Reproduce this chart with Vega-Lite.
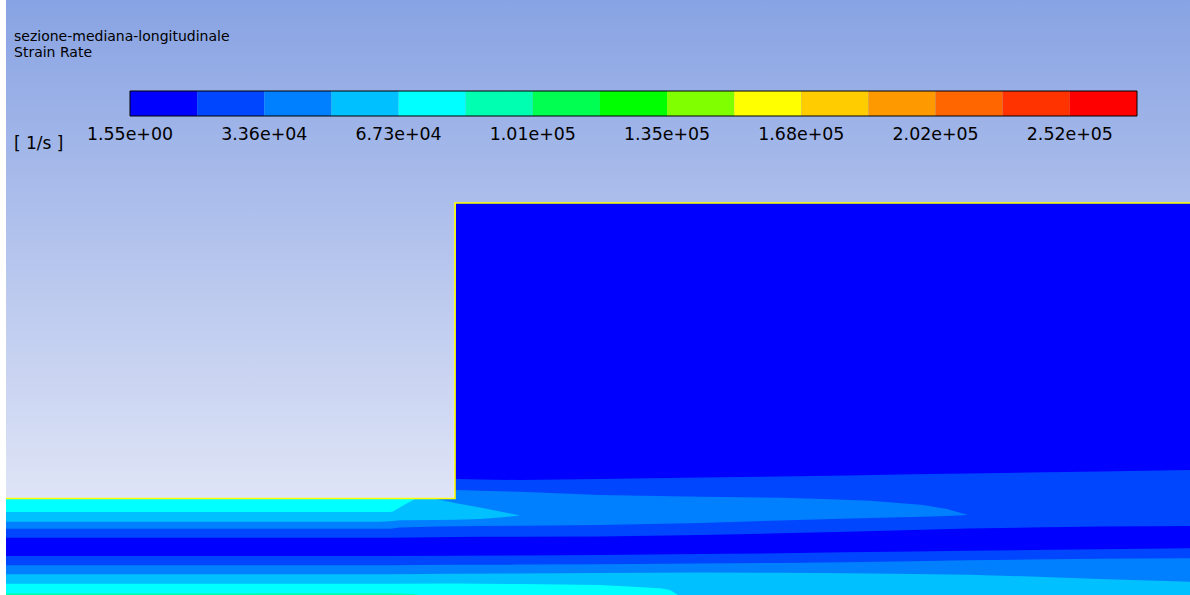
{
  "$schema": "https://vega.github.io/schema/vega-lite/v6.json",
  "width": 1190,
  "height": 595,
  "autosize": {"type": "fit", "contains": "padding"},
  "padding": {"left": 6, "top": 0, "right": 0, "bottom": 0},
  "background": "#ffffff",
  "config": {
    "view": {"stroke": null, "fill": {"gradient": "linear", "x1": 0, "y1": 0, "x2": 0, "y2": 1, "stops": [{"offset": 0, "color": "#88a3e3"}, {"offset": 1, "color": "#f0f1fa"}]}},
    "axis": {"disable": true},
    "legend": {"disable": true}
  },
  "datasets": {
    "field": [
      {"region": "L0", "level": 0, "x": 6, "top": 499, "bot": 595},
      {"region": "L0", "level": 0, "x": 455, "top": 499, "bot": 595},
      {"region": "L0", "level": 0, "x": 456, "top": 203, "bot": 595},
      {"region": "L0", "level": 0, "x": 1190, "top": 203, "bot": 595},

      {"region": "U1", "level": 1, "x": 6, "top": 499, "bot": 537.7},
      {"region": "U1", "level": 1, "x": 390, "top": 499, "bot": 537.7},
      {"region": "U1", "level": 1, "x": 455, "top": 499, "bot": 537},
      {"region": "U1", "level": 1, "x": 456, "top": 479, "bot": 537},
      {"region": "U1", "level": 1, "x": 480, "top": 479.5, "bot": 536.8},
      {"region": "U1", "level": 1, "x": 520, "top": 480, "bot": 536.7},
      {"region": "U1", "level": 1, "x": 600, "top": 479, "bot": 536.5},
      {"region": "U1", "level": 1, "x": 700, "top": 477.5, "bot": 535},
      {"region": "U1", "level": 1, "x": 780, "top": 476.5, "bot": 533.3},
      {"region": "U1", "level": 1, "x": 847, "top": 475.5, "bot": 531.7},
      {"region": "U1", "level": 1, "x": 913, "top": 474.3, "bot": 530},
      {"region": "U1", "level": 1, "x": 968, "top": 473.5, "bot": 528.6},
      {"region": "U1", "level": 1, "x": 1030, "top": 472.5, "bot": 527.5},
      {"region": "U1", "level": 1, "x": 1100, "top": 471.5, "bot": 526.5},
      {"region": "U1", "level": 1, "x": 1190, "top": 470, "bot": 526},

      {"region": "U2", "level": 2, "x": 6, "top": 499, "bot": 528.7},
      {"region": "U2", "level": 2, "x": 390, "top": 499, "bot": 528.7},
      {"region": "U2", "level": 2, "x": 400, "top": 499, "bot": 527.5},
      {"region": "U2", "level": 2, "x": 438, "top": 499, "bot": 526.5},
      {"region": "U2", "level": 2, "x": 455, "top": 499, "bot": 526.3},
      {"region": "U2", "level": 2, "x": 456, "top": 490, "bot": 526.3},
      {"region": "U2", "level": 2, "x": 480, "top": 490.7, "bot": 526},
      {"region": "U2", "level": 2, "x": 520, "top": 491.8, "bot": 525.7},
      {"region": "U2", "level": 2, "x": 600, "top": 495, "bot": 525},
      {"region": "U2", "level": 2, "x": 700, "top": 496.7, "bot": 523},
      {"region": "U2", "level": 2, "x": 780, "top": 497.7, "bot": 520.5},
      {"region": "U2", "level": 2, "x": 823, "top": 499, "bot": 519.3},
      {"region": "U2", "level": 2, "x": 870, "top": 500.7, "bot": 518},
      {"region": "U2", "level": 2, "x": 923, "top": 505, "bot": 516.8},
      {"region": "U2", "level": 2, "x": 947, "top": 509, "bot": 516},
      {"region": "U2", "level": 2, "x": 968, "top": 515, "bot": 515},

      {"region": "U3", "level": 3, "x": 6, "top": 499, "bot": 521.7},
      {"region": "U3", "level": 3, "x": 380, "top": 499, "bot": 521.7},
      {"region": "U3", "level": 3, "x": 390, "top": 499, "bot": 521.3},
      {"region": "U3", "level": 3, "x": 400, "top": 499, "bot": 520.3},
      {"region": "U3", "level": 3, "x": 436, "top": 499, "bot": 520},
      {"region": "U3", "level": 3, "x": 455, "top": 503, "bot": 519.7},
      {"region": "U3", "level": 3, "x": 480, "top": 507.5, "bot": 519},
      {"region": "U3", "level": 3, "x": 500, "top": 511.5, "bot": 517.5},
      {"region": "U3", "level": 3, "x": 520, "top": 515.5, "bot": 515.5},

      {"region": "U4", "level": 4, "x": 6, "top": 499, "bot": 512},
      {"region": "U4", "level": 4, "x": 390, "top": 499, "bot": 512},
      {"region": "U4", "level": 4, "x": 393, "top": 499, "bot": 511.5},
      {"region": "U4", "level": 4, "x": 404, "top": 499, "bot": 505},
      {"region": "U4", "level": 4, "x": 415, "top": 499, "bot": 499},

      {"region": "D1", "level": 1, "x": 6, "top": 556, "bot": 595},
      {"region": "D1", "level": 1, "x": 390, "top": 556, "bot": 595},
      {"region": "D1", "level": 1, "x": 455, "top": 555.8, "bot": 595},
      {"region": "D1", "level": 1, "x": 520, "top": 555.5, "bot": 595},
      {"region": "D1", "level": 1, "x": 600, "top": 555, "bot": 595},
      {"region": "D1", "level": 1, "x": 700, "top": 554, "bot": 595},
      {"region": "D1", "level": 1, "x": 780, "top": 553.3, "bot": 595},
      {"region": "D1", "level": 1, "x": 847, "top": 552.2, "bot": 595},
      {"region": "D1", "level": 1, "x": 913, "top": 551.5, "bot": 595},
      {"region": "D1", "level": 1, "x": 968, "top": 550.8, "bot": 595},
      {"region": "D1", "level": 1, "x": 1030, "top": 550, "bot": 595},
      {"region": "D1", "level": 1, "x": 1100, "top": 549.2, "bot": 595},
      {"region": "D1", "level": 1, "x": 1190, "top": 548.3, "bot": 595},

      {"region": "D2", "level": 2, "x": 6, "top": 565.3, "bot": 595},
      {"region": "D2", "level": 2, "x": 390, "top": 565.3, "bot": 595},
      {"region": "D2", "level": 2, "x": 455, "top": 564.8, "bot": 595},
      {"region": "D2", "level": 2, "x": 520, "top": 564.6, "bot": 595},
      {"region": "D2", "level": 2, "x": 600, "top": 564.3, "bot": 595},
      {"region": "D2", "level": 2, "x": 700, "top": 563.5, "bot": 595},
      {"region": "D2", "level": 2, "x": 780, "top": 563, "bot": 595},
      {"region": "D2", "level": 2, "x": 847, "top": 562.2, "bot": 595},
      {"region": "D2", "level": 2, "x": 913, "top": 561.2, "bot": 595},
      {"region": "D2", "level": 2, "x": 968, "top": 560.3, "bot": 595},
      {"region": "D2", "level": 2, "x": 1030, "top": 559.5, "bot": 595},
      {"region": "D2", "level": 2, "x": 1100, "top": 558.8, "bot": 595},
      {"region": "D2", "level": 2, "x": 1190, "top": 558.3, "bot": 595},

      {"region": "D3", "level": 3, "x": 6, "top": 574.3, "bot": 595},
      {"region": "D3", "level": 3, "x": 390, "top": 574.2, "bot": 595},
      {"region": "D3", "level": 3, "x": 455, "top": 573.8, "bot": 595},
      {"region": "D3", "level": 3, "x": 520, "top": 573.5, "bot": 595},
      {"region": "D3", "level": 3, "x": 600, "top": 573, "bot": 595},
      {"region": "D3", "level": 3, "x": 700, "top": 572.5, "bot": 595},
      {"region": "D3", "level": 3, "x": 780, "top": 572.8, "bot": 595},
      {"region": "D3", "level": 3, "x": 847, "top": 573.3, "bot": 595},
      {"region": "D3", "level": 3, "x": 913, "top": 574, "bot": 595},
      {"region": "D3", "level": 3, "x": 968, "top": 574.8, "bot": 595},
      {"region": "D3", "level": 3, "x": 1030, "top": 576.5, "bot": 595},
      {"region": "D3", "level": 3, "x": 1100, "top": 579, "bot": 595},
      {"region": "D3", "level": 3, "x": 1190, "top": 581.7, "bot": 595},

      {"region": "D4", "level": 4, "x": 6, "top": 583.7, "bot": 595},
      {"region": "D4", "level": 4, "x": 390, "top": 583.7, "bot": 595},
      {"region": "D4", "level": 4, "x": 455, "top": 583.6, "bot": 595},
      {"region": "D4", "level": 4, "x": 520, "top": 584, "bot": 595},
      {"region": "D4", "level": 4, "x": 600, "top": 585, "bot": 595},
      {"region": "D4", "level": 4, "x": 633, "top": 586.7, "bot": 595},
      {"region": "D4", "level": 4, "x": 660, "top": 588.3, "bot": 595},
      {"region": "D4", "level": 4, "x": 670, "top": 590, "bot": 595},
      {"region": "D4", "level": 4, "x": 678, "top": 595, "bot": 595},

      {"region": "D5", "level": 5, "x": 6, "top": 593.3, "bot": 595},
      {"region": "D5", "level": 5, "x": 390, "top": 593.3, "bot": 595},
      {"region": "D5", "level": 5, "x": 400, "top": 593.5, "bot": 595},
      {"region": "D5", "level": 5, "x": 413, "top": 594, "bot": 595},
      {"region": "D5", "level": 5, "x": 420, "top": 595, "bot": 595}
    ],
    "wall": [
      {"seq": 1, "x": 6, "y": 498.5},
      {"seq": 2, "x": 455, "y": 498.5},
      {"seq": 3, "x": 455, "y": 203},
      {"seq": 4, "x": 1190, "y": 203}
    ],
    "bands": [
      {"level": 0, "lo": 0, "hi": 16800},
      {"level": 1, "lo": 16800, "hi": 33600},
      {"level": 2, "lo": 33600, "hi": 50400},
      {"level": 3, "lo": 50400, "hi": 67200},
      {"level": 4, "lo": 67200, "hi": 84000},
      {"level": 5, "lo": 84000, "hi": 100800},
      {"level": 6, "lo": 100800, "hi": 117600},
      {"level": 7, "lo": 117600, "hi": 134400},
      {"level": 8, "lo": 134400, "hi": 151200},
      {"level": 9, "lo": 151200, "hi": 168000},
      {"level": 10, "lo": 168000, "hi": 184800},
      {"level": 11, "lo": 184800, "hi": 201600},
      {"level": 12, "lo": 201600, "hi": 218400},
      {"level": 13, "lo": 218400, "hi": 235200},
      {"level": 14, "lo": 235200, "hi": 252000}
    ],
    "ticks": [
      {"label": "1.55e+00", "at": 0},
      {"label": "3.36e+04", "at": 33600},
      {"label": "6.73e+04", "at": 67200},
      {"label": "1.01e+05", "at": 100800},
      {"label": "1.35e+05", "at": 134400},
      {"label": "1.68e+05", "at": 168000},
      {"label": "2.02e+05", "at": 201600},
      {"label": "2.52e+05", "at": 235200}
    ]
  },
  "layer": [
    {
      "layer": [
        {"data": {"name": "field"}, "transform": [{"filter": "datum.region === 'L0'"}],
         "mark": {"type": "area", "orient": "vertical", "interpolate": "linear", "clip": true},
         "encoding": {"x": {"field": "x", "type": "quantitative", "scale": {"domain": [6, 1190], "nice": false, "zero": false}},
                      "y": {"field": "top", "type": "quantitative", "stack": null, "scale": {"domain": [0, 595], "nice": false, "zero": false, "reverse": true}},
                      "y2": {"field": "bot"},
                      "color": {"field": "level", "type": "ordinal", "scale": {"domain": [0,1,2,3,4,5,6,7,8,9,10,11,12,13,14], "range": ["#0000ff","#0046ff","#0080ff","#00c0ff","#00ffff","#00ffb0","#00ff50","#00ff00","#80ff00","#ffff00","#ffcc00","#ff9900","#ff6600","#ff3300","#ff0000"]}}}},
        {"data": {"name": "field"}, "transform": [{"filter": "datum.region === 'U1'"}],
         "mark": {"type": "area", "orient": "vertical", "interpolate": "linear", "clip": true},
         "encoding": {"x": {"field": "x", "type": "quantitative", "scale": {"domain": [6, 1190], "nice": false, "zero": false}},
                      "y": {"field": "top", "type": "quantitative", "stack": null, "scale": {"domain": [0, 595], "nice": false, "zero": false, "reverse": true}},
                      "y2": {"field": "bot"},
                      "color": {"field": "level", "type": "ordinal"}}},
        {"data": {"name": "field"}, "transform": [{"filter": "datum.region === 'U2'"}],
         "mark": {"type": "area", "orient": "vertical", "interpolate": "linear", "clip": true},
         "encoding": {"x": {"field": "x", "type": "quantitative", "scale": {"domain": [6, 1190], "nice": false, "zero": false}},
                      "y": {"field": "top", "type": "quantitative", "stack": null, "scale": {"domain": [0, 595], "nice": false, "zero": false, "reverse": true}},
                      "y2": {"field": "bot"},
                      "color": {"field": "level", "type": "ordinal"}}},
        {"data": {"name": "field"}, "transform": [{"filter": "datum.region === 'U3'"}],
         "mark": {"type": "area", "orient": "vertical", "interpolate": "linear", "clip": true},
         "encoding": {"x": {"field": "x", "type": "quantitative", "scale": {"domain": [6, 1190], "nice": false, "zero": false}},
                      "y": {"field": "top", "type": "quantitative", "stack": null, "scale": {"domain": [0, 595], "nice": false, "zero": false, "reverse": true}},
                      "y2": {"field": "bot"},
                      "color": {"field": "level", "type": "ordinal"}}},
        {"data": {"name": "field"}, "transform": [{"filter": "datum.region === 'U4'"}],
         "mark": {"type": "area", "orient": "vertical", "interpolate": "linear", "clip": true},
         "encoding": {"x": {"field": "x", "type": "quantitative", "scale": {"domain": [6, 1190], "nice": false, "zero": false}},
                      "y": {"field": "top", "type": "quantitative", "stack": null, "scale": {"domain": [0, 595], "nice": false, "zero": false, "reverse": true}},
                      "y2": {"field": "bot"},
                      "color": {"field": "level", "type": "ordinal"}}},
        {"data": {"name": "field"}, "transform": [{"filter": "datum.region === 'D1'"}],
         "mark": {"type": "area", "orient": "vertical", "interpolate": "linear", "clip": true},
         "encoding": {"x": {"field": "x", "type": "quantitative", "scale": {"domain": [6, 1190], "nice": false, "zero": false}},
                      "y": {"field": "top", "type": "quantitative", "stack": null, "scale": {"domain": [0, 595], "nice": false, "zero": false, "reverse": true}},
                      "y2": {"field": "bot"},
                      "color": {"field": "level", "type": "ordinal"}}},
        {"data": {"name": "field"}, "transform": [{"filter": "datum.region === 'D2'"}],
         "mark": {"type": "area", "orient": "vertical", "interpolate": "linear", "clip": true},
         "encoding": {"x": {"field": "x", "type": "quantitative", "scale": {"domain": [6, 1190], "nice": false, "zero": false}},
                      "y": {"field": "top", "type": "quantitative", "stack": null, "scale": {"domain": [0, 595], "nice": false, "zero": false, "reverse": true}},
                      "y2": {"field": "bot"},
                      "color": {"field": "level", "type": "ordinal"}}},
        {"data": {"name": "field"}, "transform": [{"filter": "datum.region === 'D3'"}],
         "mark": {"type": "area", "orient": "vertical", "interpolate": "linear", "clip": true},
         "encoding": {"x": {"field": "x", "type": "quantitative", "scale": {"domain": [6, 1190], "nice": false, "zero": false}},
                      "y": {"field": "top", "type": "quantitative", "stack": null, "scale": {"domain": [0, 595], "nice": false, "zero": false, "reverse": true}},
                      "y2": {"field": "bot"},
                      "color": {"field": "level", "type": "ordinal"}}},
        {"data": {"name": "field"}, "transform": [{"filter": "datum.region === 'D4'"}],
         "mark": {"type": "area", "orient": "vertical", "interpolate": "linear", "clip": true},
         "encoding": {"x": {"field": "x", "type": "quantitative", "scale": {"domain": [6, 1190], "nice": false, "zero": false}},
                      "y": {"field": "top", "type": "quantitative", "stack": null, "scale": {"domain": [0, 595], "nice": false, "zero": false, "reverse": true}},
                      "y2": {"field": "bot"},
                      "color": {"field": "level", "type": "ordinal"}}},
        {"data": {"name": "field"}, "transform": [{"filter": "datum.region === 'D5'"}],
         "mark": {"type": "area", "orient": "vertical", "interpolate": "linear", "clip": true},
         "encoding": {"x": {"field": "x", "type": "quantitative", "scale": {"domain": [6, 1190], "nice": false, "zero": false}},
                      "y": {"field": "top", "type": "quantitative", "stack": null, "scale": {"domain": [0, 595], "nice": false, "zero": false, "reverse": true}},
                      "y2": {"field": "bot"},
                      "color": {"field": "level", "type": "ordinal"}}},
        {"data": {"name": "wall"},
         "mark": {"type": "line", "color": "#ffff00", "strokeWidth": 1.6, "clip": true},
         "encoding": {"x": {"field": "x", "type": "quantitative", "scale": {"domain": [6, 1190], "nice": false, "zero": false}},
                      "y": {"field": "y", "type": "quantitative", "scale": {"domain": [0, 595], "nice": false, "zero": false, "reverse": true}},
                      "order": {"field": "seq", "type": "quantitative"}}},
        {"data": {"values": [{"label": "sezione-mediana-longitudinale"}]},
         "mark": {"type": "text", "font": "DejaVu Sans", "fontSize": 14, "align": "left", "baseline": "alphabetic", "color": "#000000"},
         "encoding": {"x": {"datum": 14, "type": "quantitative", "scale": {"domain": [6, 1190], "nice": false, "zero": false}},
                      "y": {"datum": 41, "type": "quantitative", "scale": {"domain": [0, 595], "nice": false, "zero": false, "reverse": true}},
                      "text": {"field": "label"}}},
        {"data": {"values": [{"label": "Strain Rate"}]},
         "mark": {"type": "text", "font": "DejaVu Sans", "fontSize": 14, "align": "left", "baseline": "alphabetic", "color": "#000000"},
         "encoding": {"x": {"datum": 14, "type": "quantitative", "scale": {"domain": [6, 1190], "nice": false, "zero": false}},
                      "y": {"datum": 57, "type": "quantitative", "scale": {"domain": [0, 595], "nice": false, "zero": false, "reverse": true}},
                      "text": {"field": "label"}}},
        {"data": {"values": [{"label": "[ 1/s ]"}]},
         "mark": {"type": "text", "font": "DejaVu Sans", "fontSize": 17, "align": "left", "baseline": "alphabetic", "color": "#000000"},
         "encoding": {"x": {"datum": 14, "type": "quantitative", "scale": {"domain": [6, 1190], "nice": false, "zero": false}},
                      "y": {"datum": 148.5, "type": "quantitative", "scale": {"domain": [0, 595], "nice": false, "zero": false, "reverse": true}},
                      "text": {"field": "label"}}}
      ]
    },
    {
      "layer": [
        {"data": {"name": "bands"},
         "mark": {"type": "rect"},
         "encoding": {"x": {"field": "lo", "type": "quantitative", "scale": {"domain": [-31031, 265263], "nice": false, "zero": false}},
                      "x2": {"field": "hi"},
                      "y": {"datum": 91, "type": "quantitative", "scale": {"domain": [0, 595], "nice": false, "zero": false, "reverse": true}},
                      "y2": {"datum": 116},
                      "color": {"field": "level", "type": "ordinal"}}},
        {"data": {"values": [{"lo": 0, "hi": 252000}]},
         "mark": {"type": "rect", "filled": false, "stroke": "#000000", "strokeWidth": 1},
         "encoding": {"x": {"field": "lo", "type": "quantitative", "scale": {"domain": [-31031, 265263], "nice": false, "zero": false}},
                      "x2": {"field": "hi"},
                      "y": {"datum": 91, "type": "quantitative", "scale": {"domain": [0, 595], "nice": false, "zero": false, "reverse": true}},
                      "y2": {"datum": 116}}},
        {"data": {"name": "ticks"},
         "mark": {"type": "text", "font": "DejaVu Sans", "fontSize": 17.4, "align": "center", "baseline": "alphabetic", "color": "#000000"},
         "encoding": {"x": {"field": "at", "type": "quantitative", "scale": {"domain": [-31031, 265263], "nice": false, "zero": false}},
                      "y": {"datum": 139.5, "type": "quantitative", "scale": {"domain": [0, 595], "nice": false, "zero": false, "reverse": true}},
                      "text": {"field": "label"}}}
      ]
    }
  ],
  "resolve": {"scale": {"x": "independent"}}
}
